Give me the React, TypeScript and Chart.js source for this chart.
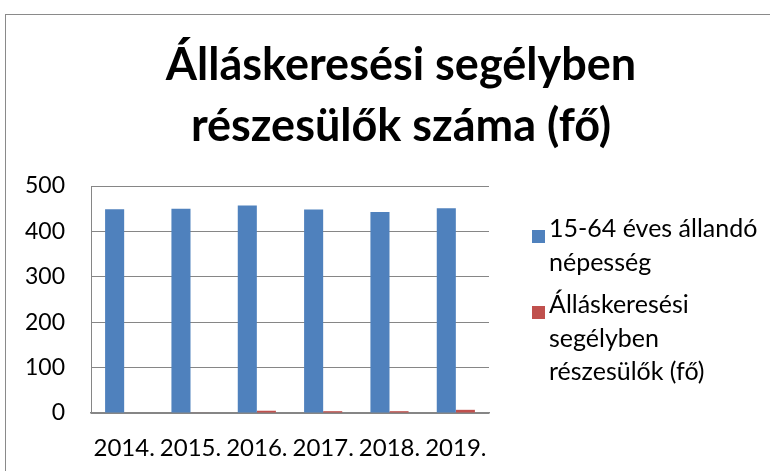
import React, { useEffect, useRef } from "react";
import { Chart, registerables } from "chart.js";

Chart.register(...registerables);

const categories = ["2014.", "2015.", "2016.", "2017.", "2018.", "2019."];
const populationValues = [449, 450, 457, 448, 443, 451];
const recipientsValues = [0, 1, 5, 4, 4, 7];
const seriesNames = [
  ["15-64 éves állandó", "népesség"],
  ["Álláskeresési", "segélyben", "részesülők (fő)"],
];
const titleLines = ["Álláskeresési segélyben", "részesülők száma (fő)"];
const yTicks = [0, 100, 200, 300, 400, 500];

const FONT = "Lato, 'Open Sans', sans-serif";
const BLUE = "#4F81BD";
const RED = "#C0504D";
const GRID = "#868686";

export default function App() {
  const ref = useRef<HTMLCanvasElement | null>(null);

  useEffect(() => {
    if (!ref.current) return;
    const framePlugin = {
      id: "frameTitleLegend",
      beforeDraw(chart: any) {
        const { ctx } = chart;
        ctx.save();
        ctx.fillStyle = "#fff";
        ctx.fillRect(0, 0, chart.width, chart.height);
        ctx.strokeStyle = "#8a8a8a";
        ctx.lineWidth = 1;
        ctx.strokeRect(5.5, 14.5, 900, 600);
        ctx.restore();
      },
      afterDraw(chart: any) {
        const { ctx, chartArea } = chart;
        ctx.save();
        // title
        ctx.fillStyle = "#000";
        ctx.font = `bold 45px ${FONT}`;
        ctx.textAlign = "center";
        ctx.textBaseline = "alphabetic";
        titleLines.forEach((line, i) => {
          ctx.fillText(line, 401, 80 + i * 61);
        });
        // legend
        ctx.font = `25px ${FONT}`;
        ctx.textAlign = "left";
        const colors = [BLUE, RED];
        const starts = [chartArea.top + 51, chartArea.top + 127];
        seriesNames.forEach((lines, i) => {
          const base = starts[i];
          ctx.fillStyle = colors[i];
          ctx.fillRect(532, base - 7, 13, 13);
          ctx.fillStyle = "#000";
          lines.forEach((l, j) => {
            ctx.fillText(l, 549, base + j * 33.5);
          });
        });
        ctx.restore();
      },
    };

    const chart = new Chart(ref.current, {
      type: "bar",
      data: {
        labels: categories,
        datasets: [
          {
            label: seriesNames[0].join(" "),
            data: populationValues,
            backgroundColor: BLUE,
            barPercentage: 1,
            categoryPercentage: 0.575,
          },
          {
            label: seriesNames[1].join(" "),
            data: recipientsValues,
            backgroundColor: RED,
            barPercentage: 1,
            categoryPercentage: 0.575,
          },
        ],
      },
      options: {
        responsive: false,
        animation: false,
        layout: { padding: { top: 186, right: 281, bottom: 0, left: 0 } },
        plugins: {
          legend: { display: false },
          title: { display: false },
          tooltip: { enabled: false },
        },
        scales: {
          x: {
            grid: { display: false, drawTicks: false },
            border: { color: GRID, width: 1.5 },
            ticks: {
              color: "#000",
              font: { family: FONT, size: 24 },
              padding: 21,
              maxRotation: 0,
              autoSkip: false,
            },
            afterFit: (scale: any) => {
              scale.height = 58;
            },
          },
          y: {
            min: 0,
            max: 500,
            afterBuildTicks: (scale: any) => {
              scale.ticks = yTicks.map((v) => ({ value: v }));
            },
            grid: { color: GRID, lineWidth: 1, drawTicks: false },
            border: { color: GRID, width: 1 },
            ticks: {
              color: "#000",
              font: { family: FONT, size: 23 },
              padding: 26,
            },
            afterFit: (scale: any) => {
              scale.width = 91;
            },
          },
        },
      },
      plugins: [framePlugin],
    });
    return () => chart.destroy();
  }, []);

  return (
    <div style={{ position: "fixed", left: 0, top: 0, width: 770, height: 471 }}>
      <canvas ref={ref} width={770} height={471} style={{ display: "block" }} />
    </div>
  );
}
